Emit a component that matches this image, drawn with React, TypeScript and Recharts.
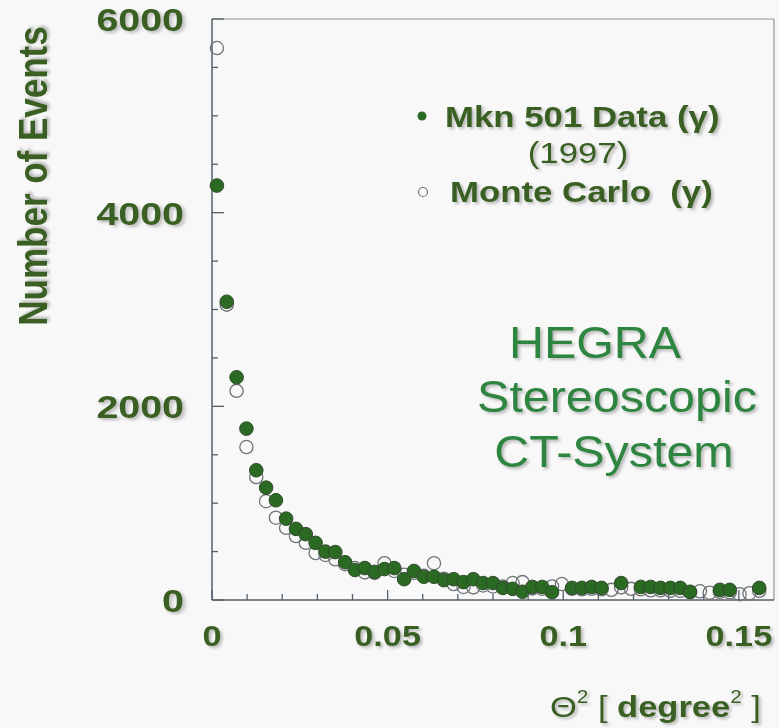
import { ScatterChart, Scatter, XAxis, YAxis, ReferenceLine } from "recharts"

// bin centres of theta^2 [degree^2]
const theta2 = [
  0.0014, 0.0042, 0.007, 0.0098, 0.0126, 0.0154, 0.0182, 0.0211, 0.0239, 0.0267,
  0.0295, 0.0323, 0.0351, 0.0379, 0.0407, 0.0435, 0.0463, 0.0491, 0.0519, 0.0547,
  0.0575, 0.0603, 0.0632, 0.066, 0.0688, 0.0716, 0.0744, 0.0772, 0.08, 0.0828,
  0.0856, 0.0884, 0.0912, 0.094, 0.0968, 0.0996, 0.1025, 0.1053, 0.1081, 0.1109,
  0.1137, 0.1165, 0.1193, 0.1221, 0.1249, 0.1277, 0.1305, 0.1333, 0.1361, 0.1389,
  0.1417, 0.1446, 0.1474, 0.1502, 0.153, 0.1558, 0.1586,
]

// Mkn 501 data, 1997 (null = no point drawn)
const mkn501 = [
  4280, 3080, 2300, 1770, 1340, 1160, 1030, 840, 735, 680,
  590, 500, 495, 390, 310, 330, 290, 320, 330, 215,
  300, 240, 240, 205, 215, 185, 215, 175, 175, 125,
  115, 85, 135, 135, 80, null, 125, 125, 135, 125,
  null, 175, null, 135, 135, 125, 125, 125, 85, null,
  null, 105, 105, null, null, 125, null,
]

// Monte Carlo gammas
const monteCarlo = [
  5700, 3050, 2160, 1580, 1270, 1020, 850, 745, 660, 590,
  485, 465, 420, 370, 330, 285, 280, 380, 300, 260,
  280, 250, 380, 220, 165, 135, 130, 150, 140, 140,
  175, 185, 120, 115, 140, 165, 115, 110, 115, 110,
  105, 130, 115, 110, 100, 100, 95, 95, 80, 90,
  75, 85, 80, 60, 70, 95, null,
]

const xTicks = [0, 0.01, 0.02, 0.03, 0.04, 0.05, 0.06, 0.07, 0.08, 0.09, 0.1, 0.11, 0.12, 0.13, 0.14, 0.15]
const xLabels = [0, 0.05, 0.1, 0.15]
const yTicks = [0, 500, 1000, 1500, 2000, 2500, 3000, 3500, 4000, 4500, 5000, 5500, 6000]
const yLabels = [0, 2000, 4000, 6000]

const toPoints = (values: (number | null)[]) =>
  theta2
    .map((x, i) => ({ x, y: values[i] }))
    .filter((p) => p.y !== null)

const dataPoints = toPoints(mkn501)
const mcPoints = toPoints(monteCarlo)

const font = "'Liberation Sans', Arial, Helvetica, sans-serif"
const labelGreen = "#3a5f22"
const titleGreen = "#2d8540"
const axisColor = "#56606a"
const shadow = "drop-shadow(2px 2px 1.5px rgba(60,60,60,0.35))"

const isLabel = (list: number[], v: number) => list.some((l) => Math.abs(l - v) < 1e-9)

function XTick({ x, y, payload }: any) {
  const v = payload.value
  const major = isLabel(xLabels, v)
  return (
    <g>
      <line x1={x} x2={x} y1={y} y2={y - (major ? 10 : 6)} stroke={axisColor} strokeWidth={1.3} />
      {major && (
        <text
          transform={`translate(${x},${y + 46}) scale(1.14,1)`}
          textAnchor="middle"
          fontFamily={font}
          fontWeight="bold"
          fontSize={30}
          fill={labelGreen}
          style={{ filter: shadow }}
        >
          {String(v)}
        </text>
      )}
    </g>
  )
}

function YTick({ x, y, payload }: any) {
  const v = payload.value
  const major = isLabel(yLabels, v)
  return (
    <g>
      <line x1={x} x2={x + (major ? 12 : 6)} y1={y} y2={y} stroke={axisColor} strokeWidth={1.3} />
      {major && (
        <text
          transform={`translate(${x - 28},${y + 12}) scale(1.27,1)`}
          textAnchor="end"
          fontFamily={font}
          fontWeight="bold"
          fontSize={31}
          fill={labelGreen}
          style={{ filter: shadow }}
        >
          {String(v)}
        </text>
      )}
    </g>
  )
}

const FilledDot = (props: any) => (
  <circle cx={props.cx} cy={props.cy} r={6.8} fill="#2b6a22" stroke="#2f4a2c" strokeWidth={1} />
)

const OpenDot = (props: any) => (
  <circle cx={props.cx} cy={props.cy} r={6.6} fill="none" stroke="#707478" strokeWidth={1.3} />
)

function Annotations() {
  const bold = { fontFamily: font, fontWeight: "bold" as const, fill: labelGreen, style: { filter: shadow, whiteSpace: "pre" as const } }
  const title = { fontFamily: font, fontSize: 44, fill: titleGreen, textAnchor: "middle" as const, style: { filter: shadow } }
  return (
    <svg width={779} height={728} style={{ position: "absolute", left: 0, top: 0, pointerEvents: "none" }}>
      {/* y axis title */}
      <text transform="translate(47,176) scale(1.15,1) rotate(-90)" textAnchor="middle" fontSize={35} {...bold}>
        Number of Events
      </text>

      {/* x axis title */}
      <text transform="translate(550,717) scale(1.15,1)" fontFamily={font} fontSize={30} fill={labelGreen} style={{ filter: shadow, whiteSpace: "pre" }}>
        Θ<tspan fontSize={18} dy={-14}>2</tspan>
        <tspan dy={14}> [ </tspan>
        <tspan fontWeight="bold">degree</tspan>
        <tspan fontSize={18} dy={-14}>2</tspan>
        <tspan dy={14}> ]</tspan>
      </text>

      {/* legend */}
      <circle cx={422} cy={116} r={4.5} fill="#2b6a22" />
      <text transform="translate(445,127) scale(1.16,1)" fontSize={30} {...bold}>
        Mkn 501 Data (γ)
      </text>
      <text transform="translate(578,163) scale(1.16,1)" textAnchor="middle" fontFamily={font} fontSize={30} fill={labelGreen} style={{ filter: shadow }}>
        (1997)
      </text>
      <circle cx={423} cy={192} r={4.5} fill="none" stroke="#707478" strokeWidth={1.2} />
      <text transform="translate(450,202) scale(1.16,1)" fontSize={30} {...bold}>
        Monte Carlo  (γ)
      </text>

      {/* instrument name */}
      <text transform="translate(595,358) scale(1.1,1)" {...title}>HEGRA</text>
      <text transform="translate(617,412) scale(1.1,1)" {...title}>Stereoscopic</text>
      <text transform="translate(614,467) scale(1.1,1)" {...title}>CT-System</text>
    </svg>
  )
}

export default function App() {
  return (
    <div style={{ position: "absolute", left: 0, top: 0, width: 779, height: 728, background: "#f7f8f7" }}>
      <ScatterChart width={779} height={728} margin={{ top: 19, right: 5, bottom: 0, left: 0 }}>
        <XAxis
          type="number"
          dataKey="x"
          domain={[0, 0.16]}
          ticks={xTicks}
          interval={0}
          height={128}
          tickSize={0}
          tickMargin={0}
          tickLine={false}
          axisLine={{ stroke: axisColor, strokeWidth: 1.5 }}
          tick={<XTick />}
        />
        <YAxis
          type="number"
          dataKey="y"
          domain={[0, 6000]}
          ticks={yTicks}
          interval={0}
          width={212}
          tickSize={0}
          tickMargin={0}
          tickLine={false}
          axisLine={{ stroke: axisColor, strokeWidth: 1.5 }}
          tick={<YTick />}
        />
        <ReferenceLine y={6000} stroke="#8c9a8c" strokeWidth={1.2} />
        <ReferenceLine x={0.16} stroke="#8c949a" strokeWidth={1.2} />
        <Scatter name="Monte Carlo" data={mcPoints} shape={OpenDot} isAnimationActive={false} />
        <Scatter name="Mkn 501" data={dataPoints} shape={FilledDot} isAnimationActive={false} />
      </ScatterChart>
      <Annotations />
    </div>
  )
}
